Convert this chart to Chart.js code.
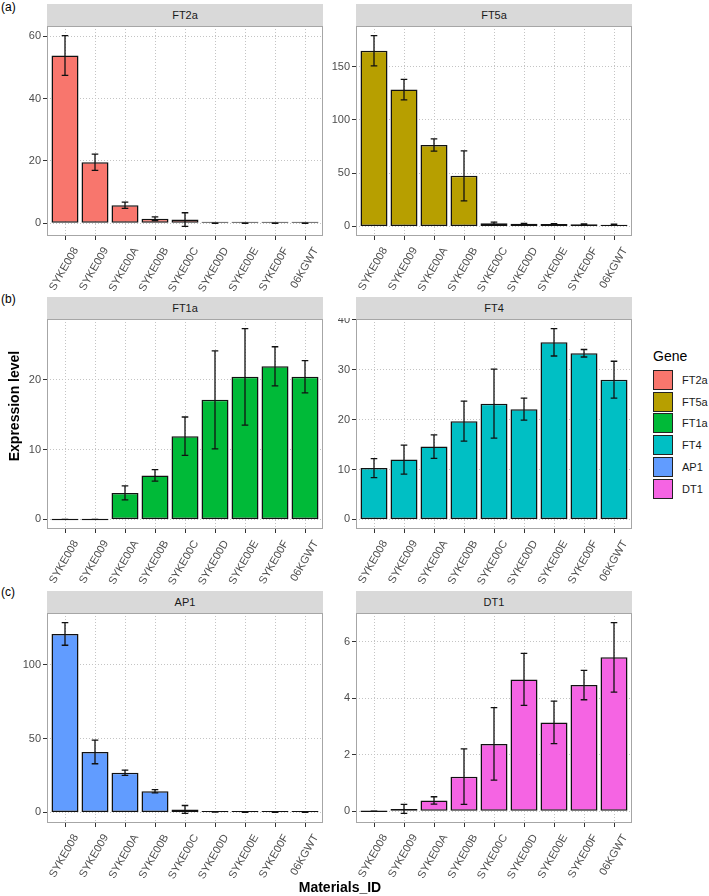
<!DOCTYPE html>
<html>
<head>
<meta charset="utf-8">
<script src="https://cdn.jsdelivr.net/npm/chart.js@4.4.1/dist/chart.umd.min.js"></script>
<style>
  body { margin: 0; background: #fff; font-family: 'Liberation Sans', Arial, sans-serif; }
  #page { position: relative; width: 709px; height: 896px; overflow: hidden; }
  canvas { position: absolute; }
  .strip { position: absolute; width: 276px; height: 22px; background: #d9d9d9; color: #1a1a1a;
           font-size: 11px; line-height: 22px; text-align: center; }
  .tag { position: absolute; left: 1px; font-size: 12px; color: #000; }
  .key { position: absolute; left: 653px; width: 18px; height: 18px; border: 1px solid #222; }
  .keylab { position: absolute; left: 682px; font-size: 11px; color: #1a1a1a; line-height: 20px; }
</style>
</head>
<body>
<div id="page">
  <div class="tag" style="top:0px">(a)</div>
  <div class="tag" style="top:292px">(b)</div>
  <div class="tag" style="top:585px">(c)</div>

  <div class="strip" style="left:47px;top:4px">FT2a</div>
  <div class="strip" style="left:356px;top:4px">FT5a</div>
  <div class="strip" style="left:47px;top:297px">FT1a</div>
  <div class="strip" style="left:356px;top:297px">FT4</div>
  <div class="strip" style="left:47px;top:591px">AP1</div>
  <div class="strip" style="left:356px;top:591px">DT1</div>

  <canvas id="c1" width="308" height="274" style="left:17px;top:25px"></canvas>
  <canvas id="c2" width="308" height="274" style="left:326px;top:25px"></canvas>
  <canvas id="c3" width="308" height="274" style="left:17px;top:318px"></canvas>
  <canvas id="c4" width="308" height="274" style="left:326px;top:318px"></canvas>
  <canvas id="c5" width="308" height="274" style="left:17px;top:612px"></canvas>
  <canvas id="c6" width="308" height="274" style="left:326px;top:612px"></canvas>

  <div style="position:absolute;left:-51px;top:398px;width:130px;text-align:center;font-size:14px;font-weight:bold;transform:rotate(-90deg);">Expression level</div>
  <div style="position:absolute;left:240px;top:879px;width:200px;text-align:center;font-size:14px;font-weight:bold;">Materials_ID</div>

  <div style="position:absolute;left:653px;top:348px;font-size:14px;color:#000;">Gene</div>
  <div id="legend"></div>
</div>

<script>
var materials = ['SYKE008', 'SYKE009', 'SYKE00A', 'SYKE00B', 'SYKE00C', 'SYKE00D', 'SYKE00E', 'SYKE00F', '06KGWT'];
var genes = ['FT2a', 'FT5a', 'FT1a', 'FT4', 'AP1', 'DT1'];
var geneColors = ['#F8766D', '#B79F00', '#00BA38', '#00BFC4', '#619CFF', '#F564E3'];

var ft2aMean = [53.8, 19.6, 5.8, 1.5, 1.2, 0.05, 0.05, 0.05, 0.05];
var ft2aSd   = [6.4, 2.6, 1.0, 0.6, 2.2, 0.02, 0.02, 0.02, 0.02];
var ft5aMean = [165, 128.5, 76.5, 47.5, 3.0, 2.5, 2.3, 2.0, 1.6];
var ft5aSd   = [14.2, 9.6, 5.7, 23.5, 1.0, 0.3, 0.3, 0.3, 0.6];
var ft1aMean = [0, 0, 3.8, 6.3, 11.9, 17.1, 20.4, 21.9, 20.4];
var ft1aSd   = [0, 0, 1.0, 0.83, 2.75, 7.0, 6.9, 2.8, 2.3];
var ft4Mean  = [10.3, 12.0, 14.6, 19.7, 23.2, 22.1, 35.5, 33.3, 28.0];
var ft4Sd    = [1.9, 2.9, 2.35, 4.0, 6.9, 2.2, 2.75, 0.75, 3.7];
var ap1Mean  = [121, 41, 26.9, 14.3, 2.0, 0.3, 0.2, 0.2, 0.2];
var ap1Sd    = [7.7, 8.0, 1.8, 1.1, 2.7, 0.1, 0.1, 0.1, 0.1];
var dt1Mean  = [0, 0.08, 0.38, 1.22, 2.38, 4.66, 3.14, 4.46, 5.44];
var dt1Sd    = [0, 0.16, 0.13, 0.98, 1.28, 0.92, 0.75, 0.52, 1.23];

var ft2aTicks = [0, 20, 40, 60];
var ft5aTicks = [0, 50, 100, 150];
var ft1aTicks = [0, 10, 20];
var ft4Ticks  = [0, 10, 20, 30, 40];
var ap1Ticks  = [0, 50, 100];
var dt1Ticks  = [0, 2, 4, 6];

Chart.defaults.font.family = "'Liberation Sans', Arial, sans-serif";

// error bars + panel frame
var errbars = {
  id: 'errbars',
  afterDatasetsDraw: function(chart, args, opts) {
    var ctx = chart.ctx, x = chart.scales.x, y = chart.scales.y;
    var vals = chart.data.datasets[0].data;
    var half = (x.getPixelForValue(2) - x.getPixelForValue(1)) * 0.11;
    ctx.save();
    ctx.strokeStyle = '#111';
    ctx.lineWidth = 1.3;
    vals.forEach(function(p, i) {
      var px = x.getPixelForValue(p.x);
      var top = y.getPixelForValue(p.y + opts.sd[i]);
      var bot = y.getPixelForValue(p.y - opts.sd[i]);
      ctx.beginPath();
      ctx.moveTo(px, top); ctx.lineTo(px, bot);
      ctx.moveTo(px - half, top); ctx.lineTo(px + half, top);
      ctx.moveTo(px - half, bot); ctx.lineTo(px + half, bot);
      ctx.stroke();
    });
    ctx.restore();
  },
  afterDraw: function(chart) {
    var a = chart.chartArea, ctx = chart.ctx;
    ctx.save();
    ctx.strokeStyle = '#a6a6a6';
    ctx.lineWidth = 1;
    ctx.strokeRect(a.left + 0.5, a.top + 0.5, a.right - a.left - 1, a.bottom - a.top - 1);
    ctx.restore();
  }
};

function makePanel(canvasId, mean, sd, color, yTicks) {
  var lo = 0, hi = 0;
  mean.forEach(function(v, i) {
    lo = Math.min(lo, v - sd[i]);
    hi = Math.max(hi, v + sd[i]);
  });
  var pad = (hi - lo) * 0.05;
  return new Chart(document.getElementById(canvasId), {
    type: 'bar',
    data: {
      datasets: [{
        data: mean.map(function(v, i) { return { x: i + 1, y: v }; }),
        backgroundColor: color,
        borderColor: '#111',
        borderWidth: 1.5,
        borderSkipped: false,
        minBarLength: 1.5,
        barPercentage: 0.9,
        categoryPercentage: 1
      }]
    },
    options: {
      responsive: false,
      animation: false,
      events: [],
      layout: { padding: { top: 1, right: 2 } },
      plugins: { legend: { display: false }, tooltip: { enabled: false }, errbars: { sd: sd } },
      scales: {
        x: {
          type: 'linear', min: 0.4, max: 9.6, offset: false,
          grid: { offset: false, color: '#c4c4c4', tickLength: 4, tickColor: '#333', tickBorderDash: [] },
          border: { display: false, dash: [1, 2] },
          ticks: {
            autoSkip: false, minRotation: 60, maxRotation: 60, color: '#4d4d4d',
            font: { size: 11 }, padding: 5, labelOffset: 11,
            callback: function(v) { return materials[v - 1]; }
          },
          afterBuildTicks: function(s) { s.ticks = materials.map(function(m, i) { return { value: i + 1 }; }); },
          afterFit: function(s) { s.height = 63; s.paddingLeft = 0; s.paddingRight = 0; }
        },
        y: {
          min: lo - pad, max: hi + pad,
          grid: { color: '#c4c4c4', tickLength: 4, tickColor: '#333', tickBorderDash: [] },
          border: { display: false, dash: [1, 2] },
          ticks: { color: '#4d4d4d', font: { size: 11 }, padding: 2 },
          afterBuildTicks: function(s) { s.ticks = yTicks.map(function(v) { return { value: v }; }); },
          afterFit: function(s) { s.width = 30; s.paddingTop = 0; s.paddingBottom = 0; }
        }
      }
    },
    plugins: [errbars]
  });
}

makePanel('c1', ft2aMean, ft2aSd, geneColors[0], ft2aTicks);
makePanel('c2', ft5aMean, ft5aSd, geneColors[1], ft5aTicks);
makePanel('c3', ft1aMean, ft1aSd, geneColors[2], ft1aTicks);
makePanel('c4', ft4Mean, ft4Sd, geneColors[3], ft4Ticks);
makePanel('c5', ap1Mean, ap1Sd, geneColors[4], ap1Ticks);
makePanel('c6', dt1Mean, dt1Sd, geneColors[5], dt1Ticks);

// legend
var leg = document.getElementById('legend');
genes.forEach(function(g, i) {
  var top = 370 + i * 21.7;
  leg.innerHTML += '<div class="key" style="top:' + top + 'px;background:' + geneColors[i] + '"></div>' +
                   '<div class="keylab" style="top:' + top + 'px">' + g + '</div>';
});
</script>
</body>
</html>
